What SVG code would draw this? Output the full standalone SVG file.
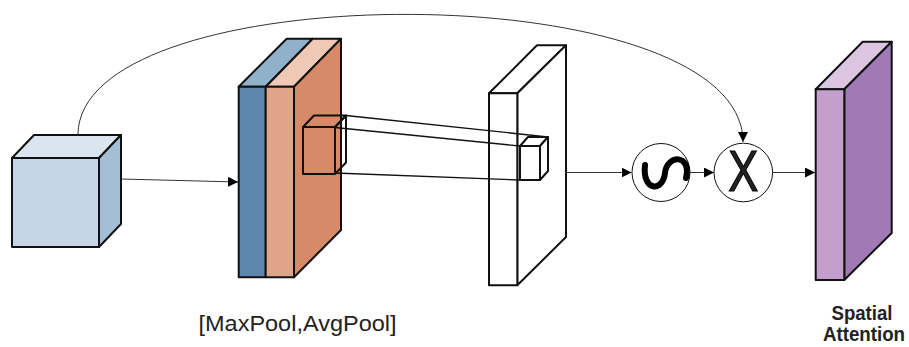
<svg xmlns="http://www.w3.org/2000/svg" width="909" height="347" viewBox="0 0 909 347">
<defs>
<marker id="ah" viewBox="0 0 10 10" refX="10" refY="5" markerWidth="10" markerHeight="10" markerUnits="userSpaceOnUse" orient="auto">
<path d="M0,0 L10,5 L0,10 Z" fill="#000"/>
</marker>
</defs>
<style>
.e{stroke:#111;stroke-width:2;stroke-linejoin:round}
.c{fill:none;stroke:#333;stroke-width:1}
.t{stroke:#111;stroke-width:1.3;fill:none}
.lbl{font-family:"Liberation Sans",Arial,sans-serif;fill:#222}
</style>
<rect width="909" height="347" fill="#fff"/>
<g id="input-cube">
<polygon class="e" points="12,158 34,135 121,135 99,158" fill="#dbe5f0"/>
<polygon class="e" points="99,158 121,135 121,224 99,247" fill="#a4bfd5"/>
<rect class="e" x="12" y="158" width="87" height="89" fill="#c5d5e5"/>
</g>
<g id="pool-slab">
<polygon class="e" points="238.7,86.7 286.7,38.7 312.7,38.7 265.7,86.7" fill="#8fb1c9"/>
<polygon class="e" points="265.7,86.7 312.7,38.7 341,38.7 294,86.7" fill="#efc8b6"/>
<polygon class="e" points="294,86.7 341,38.7 341,230 294,277.3" fill="#d68a68"/>
<rect class="e" x="238.7" y="86.7" width="27" height="190.6" fill="#5b87ad"/>
<rect class="e" x="265.7" y="86.7" width="28.3" height="190.6" fill="#e0a48a"/>
<g id="kernel-cube" fill="none">
<polygon class="e" points="303,127 314,115.5 346,115.5 335,127"/>
<polygon class="e" points="335,127 346,115.5 346,162.5 335,174"/>
<rect class="e" x="303" y="127" width="32" height="47"/>
</g>
</g>
<g id="conv-slab">
<polygon class="e" points="489,93.3 537,45.3 566,45.3 517.3,93.3" fill="#fff"/>
<polygon class="e" points="517.3,93.3 566,45.3 566,237 517.3,285.3" fill="#fff"/>
<rect class="e" x="489" y="93.3" width="28.3" height="192" fill="#fff"/>
</g>
<g id="connectors">
<path class="c" d="M78,135 C78,-27 743,-27 743,142" marker-end="url(#ah)"/>
<line class="c" x1="121" y1="179" x2="238" y2="182" marker-end="url(#ah)"/>
<line class="t" x1="346" y1="115.5" x2="548" y2="137"/>
<line class="t" x1="335" y1="127.5" x2="520" y2="146"/>
<line class="t" x1="335" y1="173" x2="520" y2="180"/>
<line class="c" x1="566" y1="172.5" x2="631.5" y2="172.5" marker-end="url(#ah)"/>
<line class="c" x1="690" y1="172.5" x2="714" y2="172.5" marker-end="url(#ah)"/>
<line class="c" x1="772.5" y1="172.5" x2="815" y2="172.5" marker-end="url(#ah)"/>
</g>
<g id="output-cube">
<polygon class="e" points="520,146 528,137 548,137 540,146" fill="#fff"/>
<polygon class="e" points="540,146 548,137 548,171 540,180" fill="#fff"/>
<rect class="e" x="520" y="146" width="20" height="34" fill="#fff"/>
</g>
<g id="sigmoid">
<circle cx="661" cy="172.5" r="29" fill="#fff" stroke="#111" stroke-width="1"/>
<path d="M645,165 C642,192 663,192 665,173 C667,154 692,154 686,178" fill="none" stroke="#000" stroke-width="6" stroke-linecap="round"/>
</g>
<g id="multiply">
<circle cx="743.3" cy="172.5" r="29.3" fill="#fff" stroke="#111" stroke-width="1"/>
<text class="lbl" x="743.3" y="190.5" font-size="57" text-anchor="middle" textLength="30" lengthAdjust="spacingAndGlyphs" fill="#000" stroke="#000" stroke-width="1.2">X</text>
</g>
<g id="attention-slab">
<polygon class="e" points="815.7,89.3 862.7,41.7 891.7,41.7 844.3,89.3" fill="#dcc5e0"/>
<polygon class="e" points="844.3,89.3 891.7,41.7 891.7,233 844.3,280" fill="#a07ab5"/>
<rect class="e" x="815.7" y="89.3" width="28.6" height="190.7" fill="#c39fcb"/>
</g>
<g id="labels">
<text class="lbl" x="297.5" y="331" font-size="22" text-anchor="middle" textLength="198" lengthAdjust="spacingAndGlyphs">[MaxPool,AvgPool]</text>
<text class="lbl" x="862" y="320" font-size="20" font-weight="bold" text-anchor="middle" textLength="61" lengthAdjust="spacingAndGlyphs">Spatial</text>
<text class="lbl" x="864" y="341" font-size="20" font-weight="bold" text-anchor="middle" textLength="82" lengthAdjust="spacingAndGlyphs">Attention</text>
</g>
</svg>
